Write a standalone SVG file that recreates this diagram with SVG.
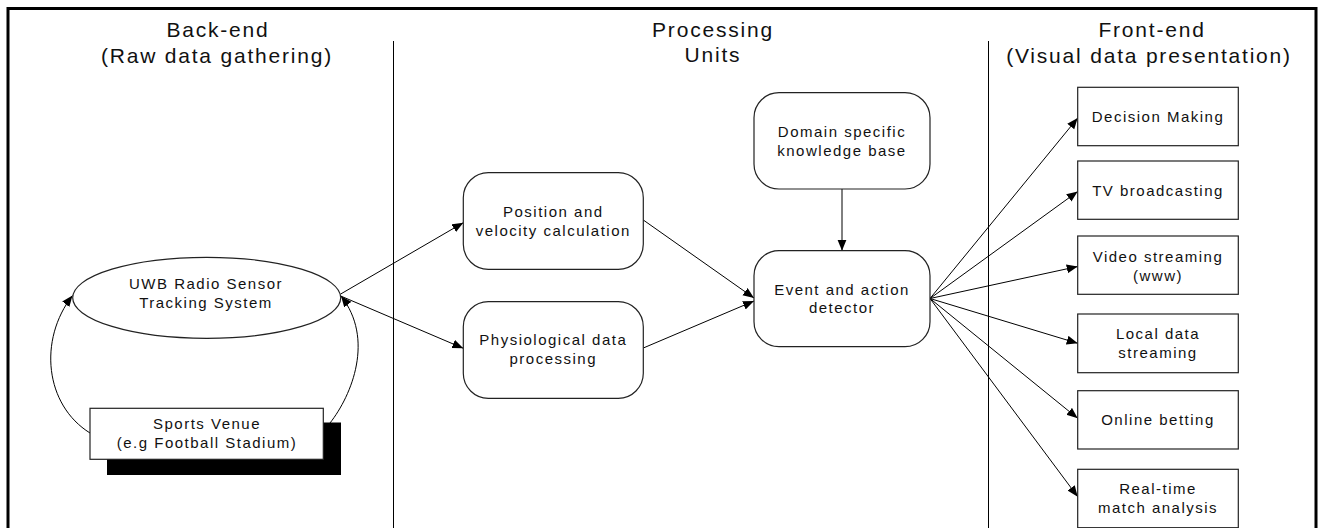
<svg xmlns="http://www.w3.org/2000/svg" width="1319" height="528" viewBox="0 0 1319 528">
<style>
  .hdr { font-family: "Liberation Sans", Arial, sans-serif; font-size: 21px; letter-spacing: 1.8px; fill: #111; text-anchor: middle; }
  .lbl { font-family: "Liberation Sans", Arial, sans-serif; font-size: 15px; letter-spacing: 1.5px; fill: #111; text-anchor: middle; }
  .node { fill: #fff; stroke: #222; stroke-width: 1.2; }
  .conn { fill: none; stroke: #000; stroke-width: 1; }
  .div { stroke: #000; stroke-width: 1; }
</style>
<defs>
  <marker id="arr" markerUnits="userSpaceOnUse" markerWidth="12" markerHeight="10" refX="11" refY="4.5" orient="auto">
    <path d="M0,0 L11,4.5 L0,9 z" fill="#000"/>
  </marker>
</defs>
<rect x="0" y="0" width="1319" height="528" fill="#fff"/>
<rect x="8" y="8.5" width="1308" height="540" fill="none" stroke="#000" stroke-width="3"/>
<line class="div" x1="393.5" y1="41" x2="393.5" y2="528"/>
<line class="div" x1="988.5" y1="41" x2="988.5" y2="528"/>

<g id="header-backend">
  <text class="hdr" x="218" y="37">Back-end</text>
  <text class="hdr" x="217" y="63">(Raw data gathering)</text>
</g>
<g id="header-processing">
  <text class="hdr" x="713" y="37">Processing</text>
  <text class="hdr" x="713" y="62">Units</text>
</g>
<g id="header-frontend">
  <text class="hdr" x="1152" y="37">Front-end</text>
  <text class="hdr" x="1149" y="63">(Visual data presentation)</text>
</g>

<g id="connectors">
  <path class="conn" d="M90,433 C45,405 38,340 72.5,295.5" marker-end="url(#arr)"/>
  <path class="conn" d="M330,423 C352,395 374.7,338.7 341,296" marker-end="url(#arr)"/>
  <line class="conn" x1="340.7" y1="294" x2="463.3" y2="222.7" marker-end="url(#arr)"/>
  <line class="conn" x1="340.7" y1="296" x2="463.3" y2="348.3" marker-end="url(#arr)"/>
  <line class="conn" x1="643.3" y1="220" x2="754" y2="298" marker-end="url(#arr)"/>
  <line class="conn" x1="643.3" y1="348" x2="754" y2="301" marker-end="url(#arr)"/>
  <line class="conn" x1="842" y1="189" x2="842" y2="250.7" marker-end="url(#arr)" stroke="#333"/>
  <line class="conn" x1="930" y1="298.5" x2="1077.7" y2="118" marker-end="url(#arr)"/>
  <line class="conn" x1="930" y1="298.5" x2="1077.7" y2="191.5" marker-end="url(#arr)"/>
  <line class="conn" x1="930" y1="298.5" x2="1077.7" y2="266.5" marker-end="url(#arr)"/>
  <line class="conn" x1="930" y1="298.5" x2="1077.7" y2="343.3" marker-end="url(#arr)"/>
  <line class="conn" x1="930" y1="298.5" x2="1077.7" y2="418.3" marker-end="url(#arr)"/>
  <line class="conn" x1="930" y1="298.5" x2="1077.7" y2="496.7" marker-end="url(#arr)"/>
</g>

<g id="uwb">
  <ellipse class="node" cx="206.7" cy="297.8" rx="134" ry="40.5"/>
  <text class="lbl" x="206" y="289.3">UWB Radio Sensor</text>
  <text class="lbl" x="206" y="307.7">Tracking System</text>
</g>
<g id="venue">
  <rect x="107" y="422.5" width="234" height="52.5" fill="#000"/>
  <rect class="node" x="90" y="408.3" width="233.3" height="51"/>
  <text class="lbl" x="207" y="429.3">Sports Venue</text>
  <text class="lbl" x="207" y="448.3">(e.g Football Stadium)</text>
</g>
<g id="position">
  <rect class="node" x="463.3" y="172.7" width="180" height="96.6" rx="25" ry="25"/>
  <text class="lbl" x="553.3" y="216.7">Position and</text>
  <text class="lbl" x="553.3" y="236">velocity calculation</text>
</g>
<g id="physio">
  <rect class="node" x="463.3" y="301.7" width="180" height="96.6" rx="25" ry="25"/>
  <text class="lbl" x="553.3" y="345">Physiological data</text>
  <text class="lbl" x="553.3" y="364">processing</text>
</g>
<g id="domain">
  <rect class="node" x="754" y="92.7" width="176" height="96.3" rx="25" ry="25"/>
  <text class="lbl" x="842" y="136.7">Domain specific</text>
  <text class="lbl" x="842" y="156">knowledge base</text>
</g>
<g id="event">
  <rect class="node" x="754" y="250.7" width="176" height="96" rx="25" ry="25"/>
  <text class="lbl" x="842" y="295">Event and action</text>
  <text class="lbl" x="842" y="313.3">detector</text>
</g>
<g id="decision">
  <rect class="node" x="1077.7" y="87.3" width="160.6" height="58.4"/>
  <text class="lbl" x="1158" y="122.3">Decision Making</text>
</g>
<g id="tv">
  <rect class="node" x="1077.7" y="161" width="160.6" height="58.3"/>
  <text class="lbl" x="1158" y="196">TV broadcasting</text>
</g>
<g id="video">
  <rect class="node" x="1077.7" y="236" width="160.6" height="58.3"/>
  <text class="lbl" x="1158" y="261.7">Video streaming</text>
  <text class="lbl" x="1158" y="280.7">(www)</text>
</g>
<g id="local">
  <rect class="node" x="1077.7" y="314" width="160.6" height="58.7"/>
  <text class="lbl" x="1158" y="339">Local data</text>
  <text class="lbl" x="1158" y="358.3">streaming</text>
</g>
<g id="betting">
  <rect class="node" x="1077.7" y="390.7" width="160.6" height="58.3"/>
  <text class="lbl" x="1158" y="425">Online betting</text>
</g>
<g id="realtime">
  <rect class="node" x="1077.7" y="469.3" width="160.6" height="58.4"/>
  <text class="lbl" x="1158" y="494">Real-time</text>
  <text class="lbl" x="1158" y="513.3">match analysis</text>
</g>
</svg>
